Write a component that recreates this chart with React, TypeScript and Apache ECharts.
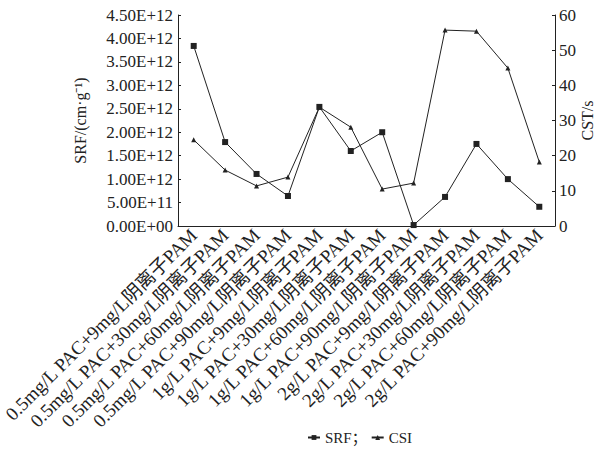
import React, { useEffect, useRef } from "react";
import * as echarts from "echarts";

const categories = [
  "0.5mg/L PAC+9mg/L阴离子PAM",
  "0.5mg/L PAC+30mg/L阴离子PAM",
  "0.5mg/L PAC+60mg/L阴离子PAM",
  "0.5mg/L PAC+90mg/L阴离子PAM",
  "1g/L PAC+9mg/L阴离子PAM",
  "1g/L PAC+30mg/L阴离子PAM",
  "1g/L PAC+60mg/L阴离子PAM",
  "1g/L PAC+90mg/L阴离子PAM",
  "2g/L PAC+9mg/L阴离子PAM",
  "2g/L PAC+30mg/L阴离子PAM",
  "2g/L PAC+60mg/L阴离子PAM",
  "2g/L PAC+90mg/L阴离子PAM",
];

const srfValues = [3.84e12, 1.79e12, 1.11e12, 0.64e12, 2.54e12, 1.6e12, 2.0e12, 0.02e12, 0.62e12, 1.75e12, 1.0e12, 0.41e12];
const cstValues = [24.5, 15.9, 11.4, 13.9, 33.8, 28.1, 10.5, 12.2, 55.7, 55.4, 44.9, 18.2];

const FONT = "'Liberation Serif', 'Times New Roman', 'Noto Sans CJK SC', serif";

function fmtSci(v: number): string {
  if (v === 0) return "0.00E+00";
  const s = v.toExponential(2).toUpperCase();
  const [m, e] = s.split("E");
  const sign = e[0];
  let digits = e.slice(1);
  if (digits.length < 2) digits = "0" + digits;
  return m + "E" + sign + digits;
}

export default function App() {
  const ref = useRef<HTMLDivElement>(null);
  useEffect(() => {
    if (!ref.current) return;
    const chart = echarts.init(ref.current, undefined, { renderer: "svg" });
    const lineColor = "#222";
    chart.setOption({
      animation: false,
      backgroundColor: "#fff",
      textStyle: { fontFamily: FONT, color: "#222" },
      grid: { left: 178, right: 41, top: 15, bottom: 240, containLabel: false, outerBoundsMode: "none" },
      legend: {
        left: 302,
        top: 425,
        itemWidth: 12,
        itemHeight: 6,
        itemGap: 4,
        textStyle: { fontFamily: FONT, fontSize: 15, color: "#222" },
        formatter: (name: string) => (name === "SRF" ? "SRF；" : name),
        data: ["SRF", "CSI"],
      },
      xAxis: {
        type: "category",
        data: categories,
        boundaryGap: true,
        axisLine: { lineStyle: { color: lineColor, width: 1 } },
        axisTick: { inside: true, length: 4, lineStyle: { color: lineColor } },
        axisLabel: {
          rotate: 45,
          interval: 0,
          fontSize: 19,
          fontFamily: FONT,
          color: "#222",
          margin: 6,
        },
      },
      yAxis: [
        {
          type: "value",
          min: 0,
          max: 4.5e12,
          interval: 5e11,
          name: "SRF/(cm·g⁻¹)",
          nameLocation: "middle",
          nameRotate: 90,
          nameGap: 90,
          nameMoveOverlap: false,
          nameTextStyle: { fontSize: 16, fontFamily: FONT, color: "#222" },
          splitLine: { show: false },
          axisLine: { show: true, lineStyle: { color: lineColor, width: 1 } },
          axisTick: { show: true, inside: true, length: 3, lineStyle: { color: lineColor } },
          axisLabel: { formatter: fmtSci, fontSize: 17, fontFamily: FONT, color: "#222", margin: 5 },
        },
        {
          type: "value",
          min: 0,
          max: 60,
          interval: 10,
          position: "right",
          name: "CST/s",
          nameLocation: "middle",
          nameRotate: 90,
          nameGap: 24,
          nameMoveOverlap: false,
          nameTextStyle: { fontSize: 16, fontFamily: FONT, color: "#222" },
          splitLine: { show: false },
          axisLine: { show: true, lineStyle: { color: lineColor, width: 1 } },
          axisTick: { show: true, inside: true, length: 3, lineStyle: { color: lineColor } },
          axisLabel: { fontSize: 17, fontFamily: FONT, color: "#222", margin: 4 },
        },
      ],
      series: [
        {
          name: "SRF",
          type: "line",
          yAxisIndex: 0,
          data: srfValues,
          symbol: "rect",
          symbolSize: 6,
          itemStyle: { color: lineColor },
          lineStyle: { color: lineColor, width: 1 },
        },
        {
          name: "CSI",
          type: "line",
          yAxisIndex: 1,
          data: cstValues,
          symbol: "triangle",
          symbolSize: 5,
          itemStyle: { color: lineColor },
          lineStyle: { color: lineColor, width: 1 },
        },
      ],
    });
    return () => chart.dispose();
  }, []);
  return (
    <div
      ref={ref}
      style={{ position: "fixed", left: 0, top: 0, width: 596, height: 466 }}
    />
  );
}
